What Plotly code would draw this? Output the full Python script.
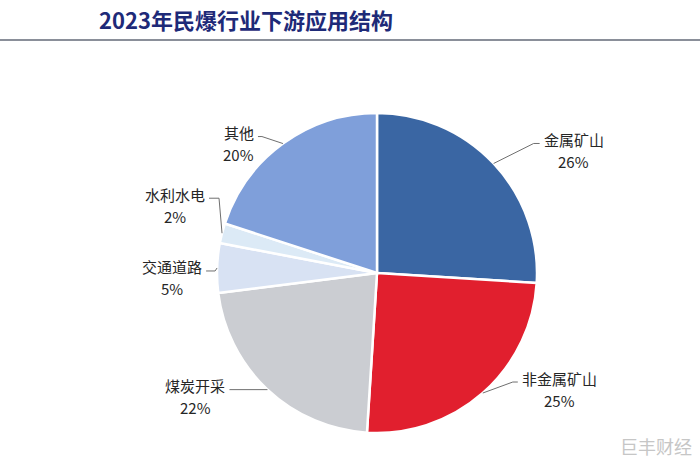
import math
import plotly.graph_objects as go

categories = ["金属矿山", "非金属矿山", "煤炭开采", "交通道路", "水利水电", "其他"]
values = [26, 25, 22, 5, 2, 20]
colors = ["#3A66A3", "#E11F2E", "#CBCDD2", "#D8E2F3", "#DCEAF6", "#7F9FDA"]

W, H = 700, 463
CX, CY, R = 377, 273, 160
FONT = "Noto Sans CJK SC"
LABEL_SIZE = 15
# leader-line layout: (kink dx, kink dy, horizontal leg length) in px, from slice edge
leader = {
    "金属矿山": (40, -20, 6),
    "非金属矿山": (30, -11, 5),
    "煤炭开采": (0, 0, 38),
    "交通道路": (-2, 3, 9),
    "水利水电": (-3, -35, 10),
    "其他": (-21, -7, 4),
}

fig = go.Figure(go.Pie(
    labels=categories, values=values, sort=False, direction="clockwise",
    rotation=0, marker=dict(colors=colors, line=dict(color="white", width=2.5)),
    textinfo="none", hoverinfo="label+percent", showlegend=False,
    domain=dict(x=[(CX - R) / W, (CX + R) / W], y=[(H - CY - R) / H, (H - CY + R) / H]),
))

def paper(x, y):
    return x / W, 1 - y / H

total = sum(values)
cum = 0
shapes, annotations = [], []
for name, v in zip(categories, values):
    mid = (cum + v / 2) / total * 2 * math.pi
    cum += v
    sx, sy = math.sin(mid), -math.cos(mid)
    x0, y0 = CX + R * sx, CY + R * sy
    kdx, kdy, leg = leader[name]
    x1, y1 = x0 + kdx, y0 + kdy
    side = 1 if sx >= 0 else -1
    x2 = x1 + side * leg
    pts = [paper(x0, y0), paper(x1, y1), paper(x2, y1)]
    path = "M {} {} L {} {} L {} {}".format(*[c for p in pts for c in p])
    shapes.append(dict(type="path", xref="paper", yref="paper", path=path,
                       line=dict(color="#6f6f6f", width=1)))
    name_w = len(name) * LABEL_SIZE
    cx = x2 + side * (4 + name_w / 2)
    pct = round(v / total * 100)
    for txt, ty in ((name, y1 - 4), (f"{pct}%", y1 + 18)):
        px, py = paper(cx, ty)
        annotations.append(dict(
            x=px, y=py, xref="paper", yref="paper", showarrow=False,
            xanchor="center", yanchor="middle", text=txt,
            font=dict(family=FONT, size=LABEL_SIZE, color="#262626"),
        ))

annotations.append(dict(
    x=97 / W, y=1 - 19 / H, xref="paper", yref="paper", showarrow=False,
    xanchor="left", yanchor="middle",
    text="<b>2023年民爆行业下游应用结构</b>",
    font=dict(family=FONT, size=22, color="#1E2A78"),
))
annotations.append(dict(
    x=694 / W, y=1 - 446 / H, xref="paper", yref="paper", showarrow=False,
    xanchor="right", yanchor="middle", text="巨丰财经",
    font=dict(family=FONT, size=18, color="#C6C6C6"),
))
shapes.append(dict(type="line", xref="paper", yref="paper", x0=0, x1=1,
                   y0=1 - 40 / H, y1=1 - 40 / H, line=dict(color="#8a8f99", width=2)))

fig.update_layout(
    width=W, height=H, margin=dict(l=0, r=0, t=0, b=0),
    paper_bgcolor="white", plot_bgcolor="white",
    shapes=shapes, annotations=annotations,
)
fig.write_html("out.html")
